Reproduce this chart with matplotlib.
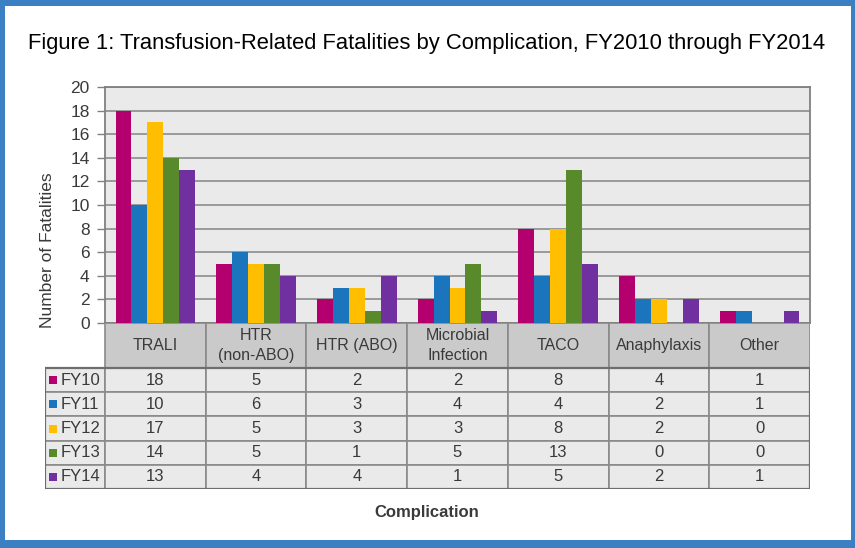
import numpy as np
import matplotlib.pyplot as plt
from matplotlib.patches import Rectangle

plt.rcParams['font.family'] = ['Liberation Sans', 'DejaVu Sans']

categories = ['TRALI', 'HTR\n(non-ABO)', 'HTR (ABO)', 'Microbial\nInfection', 'TACO', 'Anaphylaxis', 'Other']
years = ['FY10', 'FY11', 'FY12', 'FY13', 'FY14']
fy10 = [18, 5, 2, 2, 8, 4, 1]
fy11 = [10, 6, 3, 4, 4, 2, 1]
fy12 = [17, 5, 3, 3, 8, 2, 0]
fy13 = [14, 5, 1, 5, 13, 0, 0]
fy14 = [13, 4, 4, 1, 5, 2, 1]
series = [fy10, fy11, fy12, fy13, fy14]
colors = ['#b3006e', '#1b75bc', '#ffbf00', '#588a2b', '#7030a0']

W, H = 855, 548
fig = plt.figure(figsize=(W / 100, H / 100), dpi=100)
fig.patch.set_facecolor('#3a80c3')

def px(l, t, r, b):
    return [l / W, 1 - b / H, (r - l) / W, (b - t) / H]

# white card inside the blue frame
bg = fig.add_axes(px(5, 6, 851, 540), zorder=-5)
bg.set_facecolor('white')
bg.set_xticks([])
bg.set_yticks([])
for s in bg.spines.values():
    s.set_visible(False)

ax = fig.add_axes(px(105, 87, 810, 323))
ax.set_facecolor('#eaeaea')
n = len(categories)
bw = 0.158
x = np.arange(n) + 0.5
for k, (vals, c) in enumerate(zip(series, colors)):
    ax.bar(x + (k - 2) * bw, vals, width=bw, color=c, zorder=3)
ax.set_xlim(0, n)
ax.set_ylim(0, 20)
ax.set_yticks(range(0, 21, 2))
ax.set_xticks([])
ax.yaxis.grid(True, color='#8c8c8c', linewidth=1.2, zorder=1)
ax.tick_params(axis='y', length=6, width=1, color='#808080', pad=5,
               labelsize=12.5, labelcolor='#3a3a3a')
for s in ax.spines.values():
    s.set_color('#808080')
    s.set_linewidth(1.3)

# data table under the plot
tax = fig.add_axes(px(45, 323, 810, 489))
lab_w = 60 / (705 / n)
tax.set_xlim(-lab_w, n)
tax.set_ylim(166, 0)
tax.axis('off')
hh = 45
rh = (166 - hh) / 5
edge = '#8a8a8a'
for i, cat in enumerate(categories):
    tax.add_patch(Rectangle((i, 0), 1, hh, facecolor='#cacaca', edgecolor=edge, lw=1.2))
    tax.text(i + 0.5, hh / 2, cat, ha='center', va='center', fontsize=11.5,
             color='#3a3a3a', linespacing=1.35)
for r, (yr, vals, c) in enumerate(zip(years, series, colors)):
    y0 = hh + r * rh
    tax.add_patch(Rectangle((-lab_w, y0), lab_w, rh, facecolor='#eaeaea', edgecolor=edge, lw=1.2))
    tax.add_patch(Rectangle((-lab_w + 0.04, y0 + rh / 2 - 4), 0.08, 8, facecolor=c, edgecolor='none'))
    tax.text(-lab_w + 0.16, y0 + rh / 2, yr, ha='left', va='center', fontsize=12, color='#3a3a3a')
    for i, v in enumerate(vals):
        tax.add_patch(Rectangle((i, y0), 1, rh, facecolor='#eaeaea', edgecolor=edge, lw=1.2))
        tax.text(i + 0.5, y0 + rh / 2, str(v), ha='center', va='center', fontsize=12, color='#3a3a3a')
tax.add_patch(Rectangle((-lab_w, hh), lab_w + n, 166 - hh, facecolor='none', edgecolor='#6e6e6e', lw=1.6))

fig.text(427 / W, 1 - 44 / H, 'Figure 1: Transfusion-Related Fatalities by Complication, FY2010 through FY2014',
         ha='center', va='center', fontsize=15.8, color='black')
fig.text(47 / W, 1 - 250 / H, 'Number of Fatalities', rotation=90, ha='center', va='center',
         fontsize=12.5, color='#3a3a3a')
fig.text(427 / W, 1 - 513 / H, 'Complication', ha='center', va='center', fontsize=12,
         fontweight='bold', color='#3a3a3a')

fig.savefig('out.png', dpi=100, facecolor=fig.get_facecolor())
